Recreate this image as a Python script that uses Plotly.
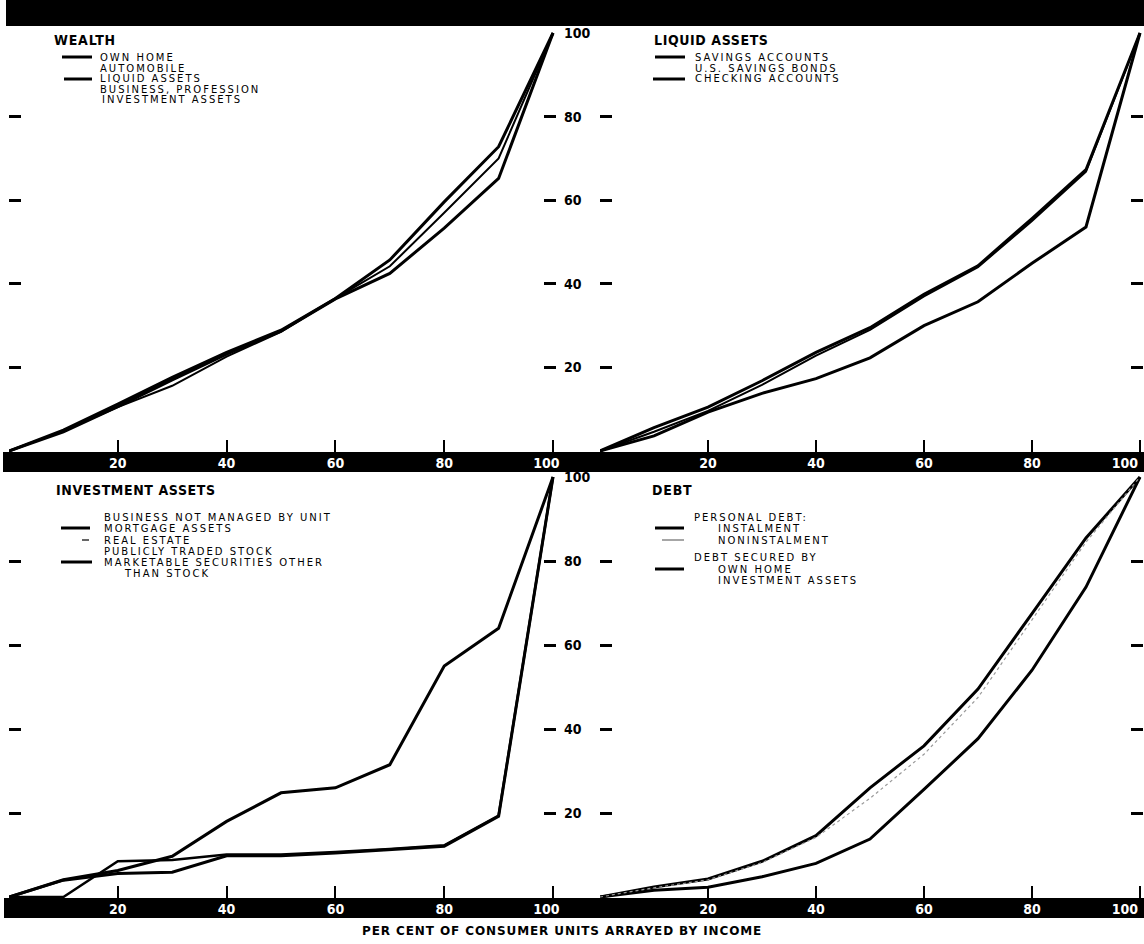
import plotly.graph_objects as go

# ---------------- data ----------------
income_pct = [0, 10, 20, 30, 40, 50, 60, 70, 80, 90, 100]
tick_vals_x = [20, 40, 60, 80, 100]
tick_text_x_left = ["20", "40", "60", "80", "100\u00a0\u00a0\u00a0"]
tick_text_x_right = ["20", "40", "60", "80", ""]
tick_vals_x_end = [100]
tick_text_x_end = ["100"]
tick_vals_y = [20, 40, 60, 80, 100]
tick_text_y = ["20", "40", "60", "80", "100"]

# WEALTH
wealth_own_home = [0, 5.0, 11.2, 17.6, 23.6, 28.9, 36.5, 45.7, 59.6, 72.8, 100]
wealth_automobile = [0, 4.8, 10.5, 15.6, 22.6, 28.5, 36.5, 44.2, 57.0, 70.0, 100]
wealth_liquid_assets = [0, 4.6, 10.6, 17.0, 23.2, 28.7, 36.4, 42.5, 53.3, 65.2, 100]

# LIQUID ASSETS
liq_savings_accounts = [0, 5.6, 10.5, 16.8, 23.6, 29.5, 37.5, 44.3, 55.6, 67.3, 100]
liq_savings_bonds = [0, 4.6, 9.6, 15.8, 22.8, 29.0, 37.0, 44.0, 55.0, 66.8, 100]
liq_checking_accounts = [0, 3.6, 9.3, 13.8, 17.3, 22.3, 30.0, 35.7, 44.9, 53.6, 100]

# INVESTMENT ASSETS
inv_mortgage_assets = [0, 4.1, 6.3, 9.7, 18.0, 24.8, 26.0, 31.5, 55.0, 64.0, 100]
inv_real_estate = [0, 0, 8.5, 8.8, 10.1, 10.1, 10.7, 11.4, 12.3, 19.4, 100]
inv_marketable_securities = [0, 4.0, 5.6, 5.9, 9.8, 9.8, 10.5, 11.3, 12.1, 19.2, 100]

# DEBT
debt_instalment = [0, 2.4, 4.3, 8.5, 14.6, 26.0, 36.0, 49.5, 67.5, 85.5, 100]
debt_noninstalment = [0, 2.2, 4.1, 8.2, 14.2, 23.5, 34.0, 47.5, 66.0, 84.5, 100]
debt_own_home = [0, 1.6, 2.3, 4.8, 8.0, 13.8, 25.6, 37.7, 54.0, 73.8, 100]

# ---------------- layout helpers ----------------
W, H = 1144, 944


def fx(p):
    return p / W


def fy(p):
    return 1 - p / H


LEFT = (9, 556)
RIGHT = (600, 1143)
TOP = (27, 452)
BOTTOM = (472, 898)

X_LEFT_RANGE = [0, 100.55]
X_RIGHT_RANGE = [0, 100.56]
Y_TOP_RANGE = [-0.24, 101.44]
Y_BOT_RANGE = [-0.24, 101.2]

NUM_FONT = dict(family="DejaVu Sans Condensed, Liberation Sans Narrow, DejaVu Sans",
                size=14, weight="bold")
LEG_FONT = dict(family="DejaVu Sans, Liberation Sans", size=10, color="black")
TITLE_FONT = dict(family="DejaVu Sans Condensed, Liberation Sans Narrow, DejaVu Sans",
                  size=14, color="black", weight="bold")

fig = go.Figure()


def add_line(y, xa, ya, name, width=3, color="black", dash="solid"):
    fig.add_trace(go.Scatter(
        x=income_pct, y=y, xaxis=xa, yaxis=ya, mode="lines", name=name,
        line=dict(color=color, width=width, dash=dash),
        showlegend=False, hoverinfo="skip"))


# top-left
add_line(wealth_automobile, "x", "y", "Automobile", width=2)
add_line(wealth_liquid_assets, "x", "y", "Liquid assets")
add_line(wealth_own_home, "x", "y", "Own home")
# top-right
add_line(liq_savings_bonds, "x2", "y2", "U.S. savings bonds", width=2)
add_line(liq_checking_accounts, "x2", "y2", "Checking accounts")
add_line(liq_savings_accounts, "x2", "y2", "Savings accounts")
# bottom-left
add_line(inv_real_estate, "x3", "y3", "Real estate", width=2.5)
add_line(inv_marketable_securities, "x3", "y3", "Marketable securities")
add_line(inv_mortgage_assets, "x3", "y3", "Mortgage assets")
# bottom-right
add_line(debt_own_home, "x4", "y4", "Own home")
add_line(debt_instalment, "x4", "y4", "Instalment")
add_line(debt_noninstalment, "x4", "y4", "Noninstalment", width=1.2, color="#9a9a9a", dash="dot")

# dummy traces so that label-only overlay axes are drawn
for xa, ya in [("x", "y5"), ("x3", "y6"), ("x5", "y2"), ("x6", "y4")]:
    fig.add_trace(go.Scatter(x=[None], y=[None], xaxis=xa, yaxis=ya,
                             showlegend=False, hoverinfo="skip"))


def xaxis_def(dom, anchor, rng, ticktext):
    return dict(domain=[fx(dom[0]), fx(dom[1])], anchor=anchor, range=rng,
                tickmode="array", tickvals=tick_vals_x, ticktext=ticktext,
                ticks="inside", ticklen=12, tickwidth=1.5, tickcolor="black",
                tickfont=dict(NUM_FONT, color="white"), ticklabelstandoff=1,
                ticklabeloverflow="allow", automargin=False,
                showgrid=False, zeroline=False, showline=False, fixedrange=True)


def xlabel_end_axis(overlay, anchor, rng):
    # carries only the "100" label, right-aligned at its tick so it stays inside
    return dict(overlaying=overlay, anchor=anchor, range=rng,
                tickmode="array", tickvals=tick_vals_x_end, ticktext=tick_text_x_end,
                ticks="", ticklabelposition="outside left",
                tickfont=dict(NUM_FONT, color="white"), ticklabelstandoff=1,
                ticklabelshift=-2, automargin=False,
                showgrid=False, zeroline=False, showline=False, fixedrange=True)


def yaxis_def(dom, anchor, rng):
    return dict(domain=[fy(dom[1]), fy(dom[0])], anchor=anchor, range=rng,
                tickmode="array", tickvals=tick_vals_y[:-1],
                ticks="inside", ticklen=12, tickwidth=2.5, tickcolor="black",
                mirror="ticks", showticklabels=False, automargin=False,
                showgrid=False, zeroline=False, showline=False, fixedrange=True)


def ylabel_axis(overlay, anchor, rng):
    return dict(overlaying=overlay, anchor=anchor, side="right", range=rng,
                tickmode="array", tickvals=tick_vals_y, ticktext=tick_text_y,
                ticks="", tickfont=dict(NUM_FONT, color="black"), ticklabelstandoff=7,
                ticklabeloverflow="allow", automargin=False,
                showgrid=False, zeroline=False, showline=False, fixedrange=True)


fig.update_layout(
    width=W, height=H, autosize=False,
    margin=dict(l=0, r=0, t=0, b=0, pad=0, autoexpand=False),
    paper_bgcolor="white", plot_bgcolor="rgba(0,0,0,0)", showlegend=False,
    xaxis=xaxis_def(LEFT, "y", X_LEFT_RANGE, tick_text_x_left),
    yaxis=yaxis_def(TOP, "x", Y_TOP_RANGE),
    xaxis2=xaxis_def(RIGHT, "y2", X_RIGHT_RANGE, tick_text_x_right),
    yaxis2=yaxis_def(TOP, "x2", Y_TOP_RANGE),
    xaxis3=xaxis_def(LEFT, "y3", X_LEFT_RANGE, tick_text_x_left),
    yaxis3=yaxis_def(BOTTOM, "x3", Y_BOT_RANGE),
    xaxis4=xaxis_def(RIGHT, "y4", X_RIGHT_RANGE, tick_text_x_right),
    yaxis4=yaxis_def(BOTTOM, "x4", Y_BOT_RANGE),
    yaxis5=ylabel_axis("y", "x", Y_TOP_RANGE),
    yaxis6=ylabel_axis("y3", "x3", Y_BOT_RANGE),
    xaxis5=xlabel_end_axis("x2", "y2", X_RIGHT_RANGE),
    xaxis6=xlabel_end_axis("x4", "y4", X_RIGHT_RANGE),
)

shapes = []
# black bands
for (y0, y1, x0) in [(0, 26, 6), (452, 472, 3), (898, 918, 4)]:
    shapes.append(dict(type="rect", xref="paper", yref="paper", layer="below",
                       x0=fx(x0), x1=1, y0=fy(y1), y1=fy(y0),
                       fillcolor="black", line=dict(width=0)))


def leg_line(x0, x1, y, width=3, color="black", dash="solid"):
    shapes.append(dict(type="line", xref="paper", yref="paper",
                       x0=fx(x0), x1=fx(x1), y0=fy(y), y1=fy(y),
                       line=dict(color=color, width=width, dash=dash)))


annotations = []


def text(x, y, s, font=LEG_FONT, spacing=2.0, anchor="left"):
    annotations.append(dict(
        xref="paper", yref="paper", x=fx(x), y=fy(y), xanchor=anchor, yanchor="middle",
        showarrow=False, font=font,
        text=f"<span style='letter-spacing:{spacing}px'>{s}</span>"))


# --- WEALTH legend ---
text(52, 40, "WEALTH", TITLE_FONT, 0.8)
leg_line(62, 92, 57)
text(98, 57, "OWN HOME")
text(98, 68, "AUTOMOBILE")
leg_line(64, 92, 79)
text(98, 79, "LIQUID ASSETS")
text(98, 90, "BUSINESS, PROFESSION")
text(100, 100, "INVESTMENT ASSETS")

# --- LIQUID ASSETS legend ---
text(652, 40, "LIQUID ASSETS", TITLE_FONT, 0.6)
leg_line(655, 685, 57)
text(693, 57, "SAVINGS ACCOUNTS")
text(693, 68, "U.S. SAVINGS BONDS")
leg_line(653, 685, 79)
text(693, 79, "CHECKING ACCOUNTS")

# --- INVESTMENT ASSETS legend ---
text(54, 490, "INVESTMENT ASSETS", TITLE_FONT, 0.6)
text(102, 517, "BUSINESS NOT MANAGED BY UNIT")
leg_line(61, 90, 528)
text(102, 528, "MORTGAGE ASSETS")
leg_line(82, 89, 540, width=1.2)
text(102, 540, "REAL ESTATE")
text(102, 551, "PUBLICLY TRADED STOCK")
leg_line(61, 92, 562)
text(102, 562, "MARKETABLE SECURITIES OTHER")
text(122, 573, "THAN STOCK")

# --- DEBT legend ---
text(650, 490, "DEBT", TITLE_FONT, 0.8)
text(692, 517, "PERSONAL DEBT:")
leg_line(655, 684, 528)
text(716, 528, "INSTALMENT")
leg_line(662, 684, 540, width=1.5, color="#888888")
text(716, 540, "NONINSTALMENT")
text(692, 557, "DEBT SECURED BY")
leg_line(655, 684, 569)
text(716, 569, "OWN HOME")
text(716, 580, "INVESTMENT ASSETS")

# --- x axis title ---
text(562, 931, "PER CENT OF CONSUMER UNITS ARRAYED BY INCOME",
     dict(family="DejaVu Sans, Liberation Sans", size=12, color="black", weight="bold"),
     0.9, anchor="center")

fig.update_layout(shapes=shapes, annotations=annotations)

fig.write_html(
    "out.html",
    config={"displayModeBar": False, "responsive": False},
    post_script="document.body.style.margin='0';document.body.style.overflow='hidden';",
)
